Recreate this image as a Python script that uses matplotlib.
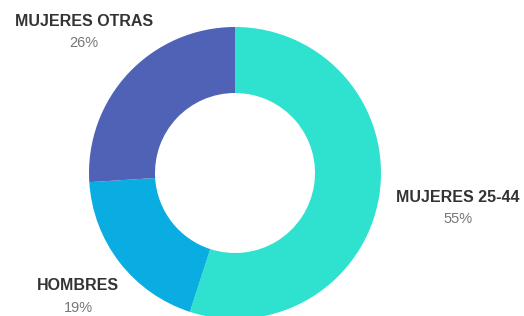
import matplotlib
matplotlib.use("Agg")
import matplotlib.pyplot as plt

labels = ["MUJERES 25-44", "HOMBRES", "MUJERES OTRAS"]
values = [55, 19, 26]
colors = ["#2FE1CF", "#0AADE2", "#5062B6"]
pct_labels = ["55%", "19%", "26%"]

H = 316
fig = plt.figure(figsize=(5.24, 3.16), dpi=100)
ax = fig.add_axes([0, 0, 1, 1])

ax.pie(values, colors=colors, startangle=90, counterclock=False,
       center=(235, H - 173), radius=146,
       wedgeprops=dict(width=146 - 80, edgecolor="none"))
ax.set_aspect("equal")
ax.set_xlim(0, 524)
ax.set_ylim(0, H)
ax.axis("off")

label_pos = [(458, 197), (78, 286), (84, 21)]
for (x, y), lab, p in zip(label_pos, labels, pct_labels):
    ax.text(x, H - y, lab, ha="center", va="center", fontsize=11.5, fontweight="bold",
            color="#333333", family="Liberation Sans")
    ax.text(x, H - (y + 22), p, ha="center", va="center", fontsize=10.5,
            color="#777777", family="Liberation Sans")

fig.savefig("out.png", dpi=100)
